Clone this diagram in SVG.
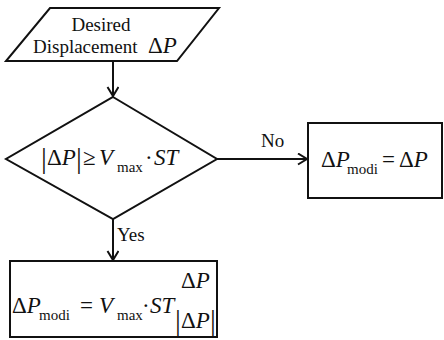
<svg xmlns="http://www.w3.org/2000/svg" width="444" height="340" viewBox="0 0 444 340" font-family="'Liberation Serif', 'DejaVu Serif', serif">
<style>
.shape{fill:#fff;stroke:#111;stroke-width:2}
.conn{fill:none;stroke:#111;stroke-width:2}
text{fill:#111}
.lbl{font-size:19px}
.m{font-size:23px}
.i{font-style:italic}
.sub{font-size:15px}
.bar{font-size:29px}
</style>
<defs>
<marker id="arr" markerUnits="userSpaceOnUse" markerWidth="14" markerHeight="14" refX="10" refY="6" orient="auto">
<path d="M1,0.5 L10,6 L1,11.5" fill="none" stroke="#111" stroke-width="2"/>
</marker>
</defs>
<g id="connectors">
<line class="conn" x1="113" y1="61" x2="113" y2="96" marker-end="url(#arr)"/>
<line class="conn" x1="217" y1="159" x2="307" y2="159" marker-end="url(#arr)"/>
<line class="conn" x1="113" y1="219" x2="113" y2="260" marker-end="url(#arr)"/>
<text class="lbl" x="261" y="147">No</text>
<text class="lbl" x="117" y="241">Yes</text>
</g>
<g id="input">
<polygon class="shape" points="50,8 219,8 177,61 6,61"/>
<text class="lbl" x="101" y="31" text-anchor="middle">Desired</text>
<text class="lbl" x="33" y="53">Displacement</text>
<text class="m" x="148" y="53">Δ<tspan class="i">P</tspan></text>
</g>
<g id="decision">
<polygon class="shape" points="113,97 217,159 113,219 6,159"/>
<text class="bar" x="41" y="168">|</text>
<text class="m" x="47" y="165">Δ<tspan class="i">P</tspan></text>
<text class="bar" x="76" y="168">|</text>
<text class="m" x="83" y="165">≥</text>
<text class="m i" x="99" y="165">V</text>
<text class="sub" x="117" y="172">max</text>
<text class="m" x="145" y="165">·</text>
<text class="m i" x="154" y="165">ST</text>
</g>
<g id="no-branch">
<rect class="shape" x="308" y="123" width="134" height="75"/>
<text class="m" x="321" y="167">Δ<tspan class="i">P</tspan></text>
<text class="sub" x="347" y="174">modi</text>
<text class="m" x="382" y="167">=</text>
<text class="m" x="399" y="167">Δ<tspan class="i">P</tspan></text>
</g>
<g id="yes-branch">
<rect class="shape" x="10" y="261" width="207" height="76"/>
<text class="m" x="12" y="313">Δ<tspan class="i">P</tspan></text>
<text class="sub" x="39" y="320">modi</text>
<text class="m" x="80" y="313">=</text>
<text class="m i" x="99" y="313">V</text>
<text class="sub" x="117" y="320">max</text>
<text class="m" x="142" y="313">·</text>
<text class="m i" x="150" y="313">ST</text>
<text class="m" x="181" y="288">Δ<tspan class="i">P</tspan></text>
<text class="bar" x="175" y="330">|</text>
<text class="m" x="181" y="328">Δ<tspan class="i">P</tspan></text>
<text class="bar" x="210" y="330">|</text>
</g>
</svg>
